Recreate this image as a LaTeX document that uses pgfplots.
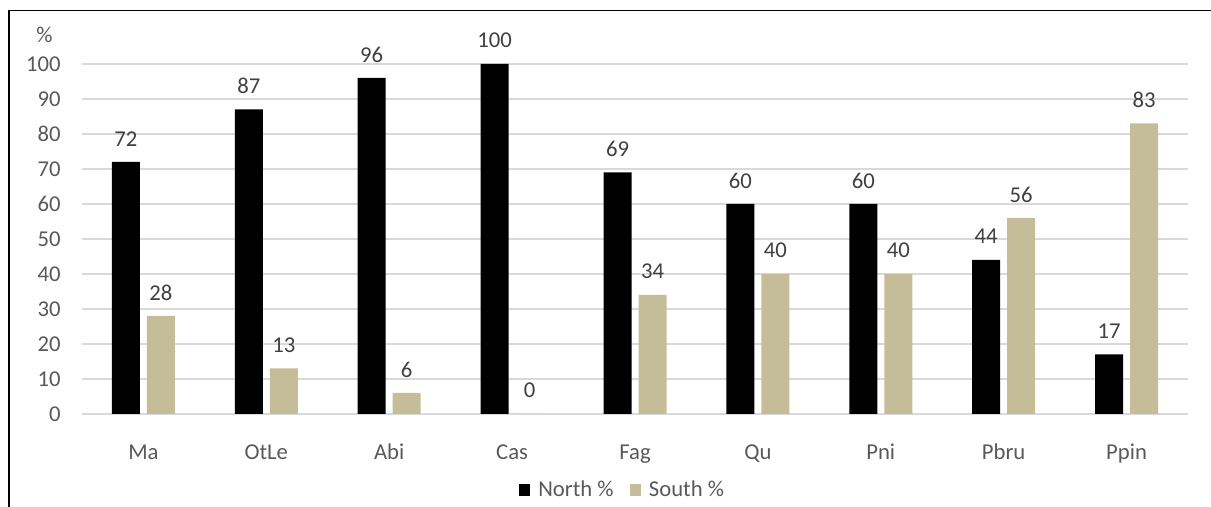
\documentclass[border=0pt]{standalone}
\usepackage{fontspec}
\setmainfont{Carlito}
\usepackage{pgfplots}
\pgfplotsset{compat=1.18}
\definecolor{southtan}{HTML}{C4BD97}
\definecolor{gridgray}{HTML}{D9D9D9}
\definecolor{ticktext}{HTML}{595959}
\definecolor{labeltext}{HTML}{404040}
\newcommand{\chartfont}{\fontsize{17}{20}\selectfont}
\begin{document}
\begin{tikzpicture}
\useasboundingbox (0,0) rectangle (908.25pt,380.25pt);
% frame lines
\draw[line width=1.1pt] (6.75pt,0) -- (6.75pt,372.4pt) -- (908.25pt,372.4pt);
\begin{axis}[
  at={(61.5pt,69.75pt)}, anchor=south west,
  scale only axis, width=829.5pt, height=262.5pt,
  xmin=-0.5, xmax=8.5, ymin=0, ymax=100,
  ytick={0,10,...,100},
  xtick={0,...,8},
  xticklabels={Ma,OtLe,Abi,Cas,Fag,Qu,Pni,Pbru,Ppin},
  axis line style={draw=none},
  tick style={draw=none},
  ymajorgrids, grid style={gridgray, line width=1pt},
  font=\chartfont,
  tick label style={text=ticktext, font=\chartfont},
  /pgf/number format/assume math mode=true,
  yticklabel style={anchor=east, xshift=-12.5pt},
  xticklabel style={anchor=base, yshift=-30pt},
  ybar, bar width=21pt,
  nodes near coords,
  every node near coord/.append style={anchor=center, yshift=17.5pt, text=labeltext, font=\chartfont},
  legend style={at={(0.489,-0.217)}, anchor=center, draw=none, fill=none,
    legend columns=2, text=ticktext, font=\chartfont,
    /tikz/every even column/.append style={column sep=10pt}},
  legend image code/.code={\fill[#1] (0pt,-4.25pt) rectangle (8.5pt,4.25pt);},
]
\addplot[fill=black, draw=none, bar shift=-13.125pt] coordinates {
  (0,72) (1,87) (2,96) (3,100) (4,69) (5,60) (6,60) (7,44) (8,17)};
\addplot[fill=southtan, draw=none, bar shift=13.125pt] coordinates {
  (0,28) (1,13) (2,6) (3,0) (4,34) (5,40) (6,40) (7,56) (8,83)};
\legend{\hspace{4pt}North \%, \hspace{4pt}South \%}
\end{axis}
\node[text=ticktext, font=\chartfont] at (33.4pt,354pt) {\%};
\end{tikzpicture}
\end{document}
